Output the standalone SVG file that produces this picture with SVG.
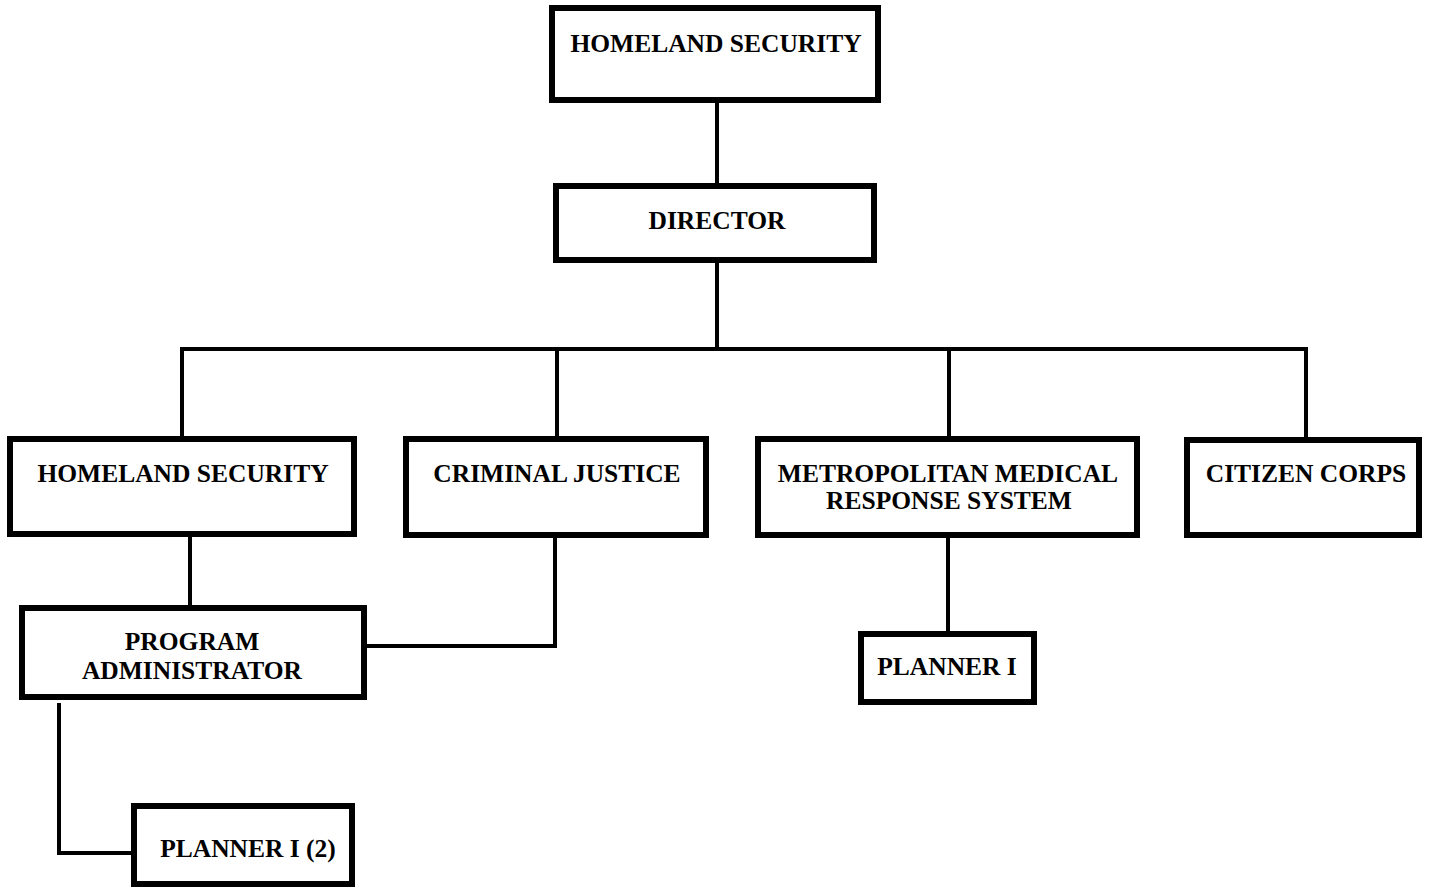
<svg xmlns="http://www.w3.org/2000/svg" width="1429" height="888" viewBox="0 0 1429 888">
<style>
.box{fill:#fff;stroke:#000;stroke-width:6}
.ln{fill:none;stroke:#000;stroke-width:4}
text{font-family:"Liberation Serif","Times New Roman",serif;font-weight:bold;font-size:25.5px;fill:#000;text-anchor:middle}
</style>
<rect width="1429" height="888" fill="#fff"/>
<g id="connectors">
<line class="ln" x1="717" y1="103" x2="717" y2="186"/>
<line class="ln" x1="717" y1="263" x2="717" y2="349"/>
<line class="ln" x1="180" y1="349" x2="1308" y2="349"/>
<line class="ln" x1="182" y1="349" x2="182" y2="439"/>
<line class="ln" x1="557" y1="349" x2="557" y2="439"/>
<line class="ln" x1="949" y1="349" x2="949" y2="439"/>
<line class="ln" x1="1306" y1="349" x2="1306" y2="439"/>
<line class="ln" x1="190" y1="537" x2="190" y2="608"/>
<polyline class="ln" points="555,537 555,646 365,646"/>
<line class="ln" x1="948" y1="537" x2="948" y2="633"/>
<polyline class="ln" points="59,703 59,853 134,853"/>
</g>
<g id="hs-top"><rect class="box" x="552" y="8" width="326" height="92"/><text x="716" y="52">HOMELAND SECURITY</text></g>
<g id="director"><rect class="box" x="556" y="186" width="318" height="74"/><text x="717" y="229">DIRECTOR</text></g>
<g id="hs"><rect class="box" x="10" y="439" width="344" height="95"/><text x="183" y="482">HOMELAND SECURITY</text></g>
<g id="cj"><rect class="box" x="406" y="439" width="300" height="96"/><text x="557" y="482">CRIMINAL JUSTICE</text></g>
<g id="mmrs"><rect class="box" x="758" y="439" width="379" height="96"/><text x="948" y="482">METROPOLITAN MEDICAL</text><text x="949" y="509">RESPONSE SYSTEM</text></g>
<g id="cc"><rect class="box" x="1187" y="440" width="232" height="95"/><text x="1306" y="482">CITIZEN CORPS</text></g>
<g id="pa"><rect class="box" x="22" y="608" width="342" height="89"/><text x="192" y="650">PROGRAM</text><text x="192" y="679">ADMINISTRATOR</text></g>
<g id="planner-mmrs"><rect class="box" x="861" y="634" width="173" height="68"/><text x="947" y="675">PLANNER I</text></g>
<g id="planner-2"><rect class="box" x="134" y="806" width="218" height="78"/><text x="248" y="857">PLANNER I (2)</text></g>
</svg>
